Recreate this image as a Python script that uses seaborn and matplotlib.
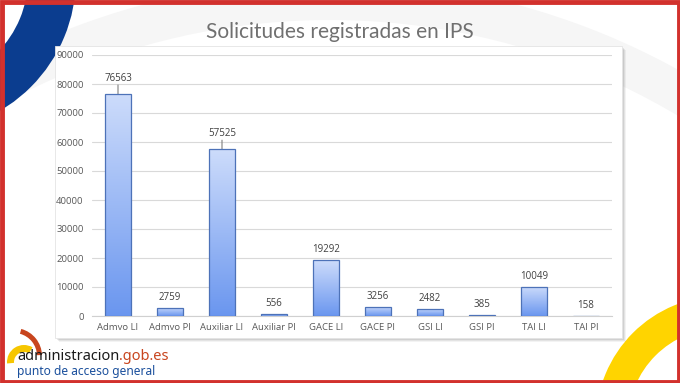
import numpy as np
import pandas as pd
import matplotlib
matplotlib.use('Agg')
import matplotlib.pyplot as plt
import seaborn as sns
from matplotlib.patches import Wedge, Rectangle
from matplotlib.colors import LinearSegmentedColormap

sns.set_theme(style='white')
plt.rcParams['font.family'] = ['Open Sans', 'DejaVu Sans']

# data
categorias = ['Admvo LI', 'Admvo PI', 'Auxiliar LI', 'Auxiliar PI', 'GACE LI',
              'GACE PI', 'GSI LI', 'GSI PI', 'TAI LI', 'TAI PI']
solicitudes = [76563, 2759, 57525, 556, 19292, 3256, 2482, 385, 10049, 158]
yticks = [0, 10000, 20000, 30000, 40000, 50000, 60000, 70000, 80000, 90000]
titulo = 'Solicitudes registradas en IPS'
con_guia = ['Admvo LI', 'Auxiliar LI']

df = pd.DataFrame({'cat': categorias, 'n': solicitudes})

W, H = 680, 383
fig = plt.figure(figsize=(W / 100, H / 100), dpi=100)
fig.patch.set_facecolor('white')

# background layer in pixel coordinates (y grows downwards)
bg = fig.add_axes([0, 0, 1, 1], zorder=0)
bg.set_xlim(0, W); bg.set_ylim(H, 0); bg.axis('off')

bg.add_patch(Wedge((330, 700), 720, 0, 360, width=40, color='#f6f6f6', lw=0))
bg.add_patch(Wedge((-78, -22), 154, 0, 360, width=48, color='#0b3d8f', lw=0))
bg.add_patch(Wedge((722, 422), 126, 0, 360, width=32, color='#ffd400', lw=0))

# chart panel with a soft shadow
for off, a in [(4, .05), (3, .07), (2, .09)]:
    bg.add_patch(Rectangle((55 + off, 46 + off), 567, 292, color='k', alpha=a, lw=0))
bg.add_patch(Rectangle((55, 46), 567, 292, facecolor='white', edgecolor='#e4e4e4', lw=.6))

# red frame
bg.add_patch(Rectangle((1.5, 1.5), W - 3, H - 3, fill=False, edgecolor='#d2312d', lw=3.5))

bg.text(340, 32, titulo, ha='center', va='center', fontsize=15, color='#707070',
        family=['Lato', 'DejaVu Sans'], fontweight='normal')

# logo
bg.add_patch(Wedge((24, 362), 17, 175, 300, width=7, color='#f6c600', lw=0))
bg.add_patch(Wedge((14, 356), 28, 285, 358, width=5, color='#c8451e', lw=0))
t1 = bg.text(17, 360, 'administracion', fontsize=10.5, color='#1a1a1a',
             va='baseline', ha='left', family=['Noto Sans', 'DejaVu Sans'], fontweight='semibold')
bg.annotate('.gob.es', xy=(1, 0), xycoords=t1, va='bottom', ha='left', fontsize=10.5,
            color='#c8451e', family=['Noto Sans', 'DejaVu Sans'], fontweight='semibold')
bg.text(17, 375, 'punto de acceso general', fontsize=8.6, color='#1a4f9c',
        va='baseline', ha='left', family=['Noto Sans', 'DejaVu Sans'], fontweight='semibold')

# the chart
ax = fig.add_axes([92 / W, 1 - 316 / H, 520 / W, 261 / H], zorder=2)
ax.patch.set_alpha(0)
sns.barplot(data=df, x='cat', y='n', ax=ax, color='#8fb0f5', width=0.5,
            edgecolor='#4d72b8', linewidth=.9, zorder=3)

cmap = LinearSegmentedColormap.from_list('g', ['#6a96ef', '#cddcfb'])
grad = np.linspace(0, 1, 256).reshape(-1, 1)
for bar in ax.patches:
    x0, w, h = bar.get_x(), bar.get_width(), bar.get_height()
    im = ax.imshow(grad, extent=[x0, x0 + w, 0, h], origin='lower', aspect='auto',
                   cmap=cmap, zorder=3.5)
    im.set_clip_path(bar)
    bar.set_facecolor('none')
    bar.set_zorder(4)

for i, (c, v) in enumerate(zip(categorias, solicitudes)):
    if c in con_guia:
        ax.annotate('', xy=(i, v), xytext=(0, 9), textcoords='offset pixels',
                    arrowprops=dict(arrowstyle='-', color='#7f7f7f', lw=.8,
                                    shrinkA=0, shrinkB=0))
        ax.annotate(str(v), xy=(i, v), xytext=(0, 10), textcoords='offset pixels',
                    ha='center', va='bottom', fontsize=7, color='#404040')
    else:
        ax.annotate(str(v), xy=(i, v), xytext=(0, 5), textcoords='offset pixels',
                    ha='center', va='bottom', fontsize=7, color='#404040')

ax.set_xlim(-0.5, len(categorias) - 0.5)
ax.set_ylim(0, 90000)
ax.set_yticks(yticks)
ax.set_yticklabels([str(t) for t in yticks])
ax.yaxis.grid(True, color='#d9d9d9', lw=.8, zorder=0)
ax.set_axisbelow(True)
ax.set_xlabel('')
ax.set_ylabel('')
ax.tick_params(axis='both', length=0, labelsize=6.8, colors='#595959', pad=5)
ax.tick_params(axis='y', pad=6)
for s in ['top', 'right', 'left']:
    ax.spines[s].set_visible(False)
ax.spines['bottom'].set_color('#d0d0d0')
ax.spines['bottom'].set_linewidth(.8)

fig.savefig('out.png', dpi=100)
